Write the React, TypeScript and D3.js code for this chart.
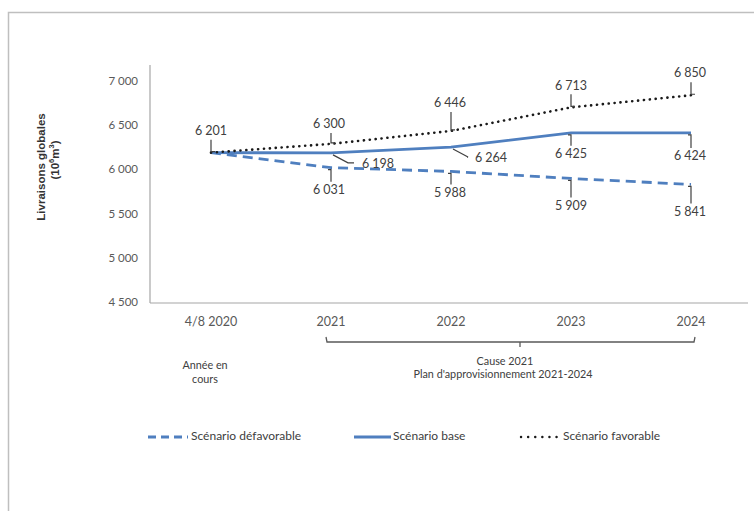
import React from "react";
import * as d3 from "d3";

const categories = ["4/8 2020", "2021", "2022", "2023", "2024"];
const defavorable = [6201, 6031, 5988, 5909, 5841];
const base = [6201, 6198, 6264, 6425, 6424];
const favorable = [6201, 6300, 6446, 6713, 6850];
const yTicks = [4500, 5000, 5500, 6000, 6500, 7000];
const legendLabels = ["Scénario défavorable", "Scénario base", "Scénario favorable"];

// label placement (layout only): [dx, dy] relative to the point, and leader style
type Lab = { dx: number; dy: number; kind: "v" | "diag" | "none" };
const favLabels: Lab[] = [
  { dx: 0, dy: -21, kind: "v" },
  { dx: -2, dy: -19, kind: "v" },
  { dx: -1, dy: -27, kind: "v" },
  { dx: 0, dy: -21, kind: "v" },
  { dx: -1, dy: -21, kind: "v" },
];
const baseLabels: Lab[] = [
  { dx: 0, dy: 0, kind: "none" },
  { dx: 47, dy: 12, kind: "diag" },
  { dx: 40, dy: 12, kind: "diag" },
  { dx: 0, dy: 22, kind: "v" },
  { dx: -1, dy: 24, kind: "v" },
];
const defLabels: Lab[] = [
  { dx: 0, dy: 0, kind: "none" },
  { dx: -2, dy: 23, kind: "v" },
  { dx: -1, dy: 22, kind: "v" },
  { dx: 0, dy: 28, kind: "v" },
  { dx: -1, dy: 28, kind: "v" },
];

const W = 754;
const H = 511;
const BLUE = "#4f7fbf";
const fmt = (v: number) => {
  const s = String(v);
  return s.length > 3 ? s.slice(0, s.length - 3) + " " + s.slice(-3) : s;
};

export default function App() {
  const x = d3.scalePoint<string>().domain(categories).range([211, 691]);
  const y = d3.scaleLinear().domain([4500, 7000]).range([303, 82]);
  const line = d3
    .line<number>()
    .x((_, i) => x(categories[i]) as number)
    .y((d) => y(d));

  const font = "Lato, 'Open Sans', sans-serif";
  const labelSize = 12.5;

  const renderLabels = (vals: number[], labs: Lab[], key: string) =>
    vals.map((v, i) => {
      const l = labs[i];
      if (l.kind === "none") return null;
      const px = x(categories[i]) as number;
      const py = y(v);
      const lx = px + l.dx;
      const ly = py + l.dy;
      let path = "";
      if (l.kind === "v") {
        if (l.dy < 0) {
          path = `M${px},${ly + 8}L${px},${py - 1}L${px + 4},${py - 1}`;
        } else {
          path = `M${px - 3},${py + 2}L${px},${py + 2}L${px},${ly - 9}`;
        }
      } else {
        path = `M${px + 2},${py + 2}L${px + 17},${py + 10}L${lx - 24},${py + 10}`;
      }
      return (
        <g key={key + i}>
          <path d={path} fill="none" stroke="#404040" strokeWidth={1.2} />
          <text
            x={lx}
            y={ly}
            textAnchor="middle"
            dominantBaseline="middle"
            fontSize={labelSize}
            fill="#404040"
            fontFamily={font}
          >
            {fmt(v)}
          </text>
        </g>
      );
    });

  const x0 = x(categories[1]) as number;
  const x1 = x(categories[4]) as number;
  const bracketY = 342;
  const p0x = x(categories[0]) as number;
  const p0y = y(favorable[0]);

  return (
    <svg
      width={W}
      height={H}
      style={{ position: "absolute", left: 0, top: 0, background: "#fff" }}
    >
      {/* outer frame */}
      <path d={`M8.5,${H}L8.5,12.5L${W},12.5`} fill="none" stroke="#bfbfbf" strokeWidth={1.5} />

      {/* axes */}
      <line x1={150} x2={150} y1={65} y2={303} stroke="#a6a6a6" strokeWidth={1.2} />
      <line x1={150} x2={748} y1={303} y2={303} stroke="#a6a6a6" strokeWidth={1.2} />

      {yTicks.map((t) => (
        <text
          key={t}
          x={138}
          y={y(t)}
          textAnchor="end"
          dominantBaseline="middle"
          fontSize={11.5}
          fill="#595959"
          fontFamily={font}
        >
          {fmt(t)}
        </text>
      ))}

      {categories.map((c) => (
        <text
          key={c}
          x={x(c) as number}
          y={323}
          textAnchor="middle"
          dominantBaseline="middle"
          fontSize={12.5}
          fill="#595959"
          fontFamily={font}
        >
          {c}
        </text>
      ))}

      {/* y title */}
      <g fontSize={11.5} fontWeight="bold" fill="#333" fontFamily="'Liberation Sans', Arial, sans-serif">
        <text transform="translate(42,167) rotate(-90)" textAnchor="middle" dominantBaseline="middle">
          Livraisons globales
        </text>
        <text transform="translate(56,160) rotate(-90)" textAnchor="middle" dominantBaseline="middle">
          (10<tspan dy={-4} fontSize={7.5}>6</tspan>
          <tspan dy={4}>m</tspan>
          <tspan dy={-4} fontSize={7.5}>3</tspan>
          <tspan dy={4}>)</tspan>
        </text>
      </g>

      {/* series */}
      <path d={line(defavorable) || ""} fill="none" stroke={BLUE} strokeWidth={2.8} strokeDasharray="10,6" />
      <path d={line(base) || ""} fill="none" stroke={BLUE} strokeWidth={2.8} />
      <path d={line(favorable) || ""} fill="none" stroke="#1a1a1a" strokeWidth={2.6} strokeDasharray="0.1,5.8" strokeLinecap="round" />

      {/* data labels */}
      <g>
        <path d={`M${p0x},${p0y - 13}L${p0x},${p0y - 1}L${p0x + 4},${p0y - 1}`} fill="none" stroke="#404040" strokeWidth={1.2} />
        <text x={p0x} y={p0y - 21} textAnchor="middle" dominantBaseline="middle" fontSize={labelSize} fill="#404040" fontFamily={font}>
          {fmt(favorable[0])}
        </text>
      </g>
      {renderLabels(favorable, favLabels.map((l, i) => (i === 0 ? { ...l, kind: "none" as const } : l)), "f")}
      {renderLabels(base, baseLabels, "b")}
      {renderLabels(defavorable, defLabels, "d")}

      {/* bracket */}
      <path
        d={`M${x0 - 5},${bracketY - 5}L${x0 - 4},${bracketY}L${x1 + 3},${bracketY}L${x1 + 4},${bracketY - 5}M${(x0 + x1) / 2 + 9},${bracketY}L${(x0 + x1) / 2 + 9},${bracketY + 5}`}
        fill="none"
        stroke="#595959"
        strokeWidth={1.3}
      />
      <g fontFamily={font} fontSize={10.8} fill="#404040" textAnchor="middle" dominantBaseline="middle">
        <text x={505} y={362}>Cause 2021</text>
        <text x={503} y={375}>Plan d'approvisionnement 2021-2024</text>
        <text x={205} y={366}>Année en</text>
        <text x={205} y={380}>cours</text>
      </g>

      {/* legend */}
      <g fontFamily={font} fontSize={12} fill="#404040">
        <line x1={148} x2={188} y1={437} y2={437} stroke={BLUE} strokeWidth={2.8} strokeDasharray="8,5" />
        <text x={191} y={437} dominantBaseline="middle">{legendLabels[0]}</text>
        <line x1={354} x2={391} y1={437} y2={437} stroke={BLUE} strokeWidth={2.8} />
        <text x={393} y={437} dominantBaseline="middle">{legendLabels[1]}</text>
        <line x1={521} x2={560} y1={437} y2={437} stroke="#1a1a1a" strokeWidth={2.4} strokeDasharray="0.1,7" strokeLinecap="round" />
        <text x={563} y={437} dominantBaseline="middle">{legendLabels[2]}</text>
      </g>
    </svg>
  );
}
